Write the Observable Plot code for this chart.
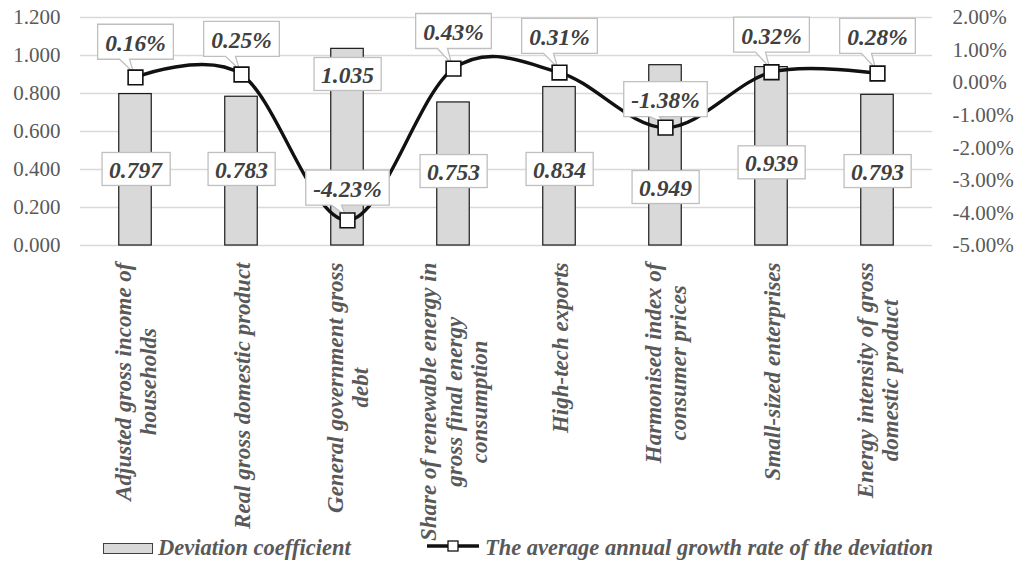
<!DOCTYPE html>
<html>
<head>
<meta charset="utf-8">
<script src="https://cdn.jsdelivr.net/npm/d3@7"></script>
<script src="https://cdn.jsdelivr.net/npm/@observablehq/plot@0.6"></script>
<style>
  body { margin: 0; background: #fff; }
  #chart { width: 1020px; height: 564px; position: relative; overflow: hidden; background: #fff; }
  #chart svg { display: block; }
  .legend { position: relative; width: 1020px; height: 28px;
    font-family: "Liberation Serif", serif; font-style: italic; font-weight: bold;
    font-size: 22.5px; color: #595959; }
  .legend .sw { position: absolute; left: 103px; top: 7px; width: 48px; height: 9px; background: #d9d9d9; border: 1px solid #404040; }
  .legend .t1 { position: absolute; left: 158px; top: 1px; line-height: 22px; white-space: nowrap; }
  .legend .ln { position: absolute; left: 426px; top: 0px; }
  .legend .t2 { position: absolute; left: 485px; top: 1px; line-height: 22px; white-space: nowrap; }
</style>
</head>
<body>
<div id="chart"></div>
<script>
// ---------------- data ----------------
const categories = [
  "Adjusted gross income of households",
  "Real gross domestic product",
  "General government gross debt",
  "Share of renewable energy in gross final energy consumption",
  "High-tech exports",
  "Harmonised index of consumer prices",
  "Small-sized enterprises",
  "Energy intensity of gross domestic product"
];
const categoryLines = [
  "Adjusted gross income of\nhouseholds",
  "Real gross domestic product",
  "General government gross\ndebt",
  "Share of renewable energy in\ngross final energy\nconsumption",
  "High-tech exports",
  "Harmonised index of\nconsumer prices",
  "Small-sized enterprises",
  "Energy intensity of gross\ndomestic product"
];
const deviationCoefficient = [0.797, 0.783, 1.035, 0.753, 0.834, 0.949, 0.939, 0.793];
const growthRatePct = [0.16, 0.25, -4.23, 0.43, 0.31, -1.38, 0.32, 0.28];
const leftTicks = [0, 0.2, 0.4, 0.6, 0.8, 1.0, 1.2];
const rightTicks = [2, 1, 0, -1, -2, -3, -4, -5];
const legendNames = ["Deviation coefficient", "The average annual growth rate of the deviation"];

// ---------------- layout (label anchor positions, in data units) ----------------
const barLabelAt = [0.395, 0.395, 0.895, 0.384, 0.395, 0.30, 0.43, 0.384];   // left-axis units
const calloutLift = [1.05, 1.05, 0.96, 1.11, 1.08, 0.83, 1.11, 1.11];        // right-axis % points

// map right axis (-5%..2%) onto left axis (0..1.2)
const R0 = -5, R1 = 2, L1 = 1.2;
const toLeft = p => (p - R0) / (R1 - R0) * L1;
const fromLeft = v => v / L1 * (R1 - R0) + R0;

const rows = categories.map((c, i) => ({
  cat: c, lines: categoryLines[i], dev: deviationCoefficient[i], rate: growthRatePct[i],
  labelAt: barLabelAt[i], lift: calloutLift[i]
}));

const H = 536;
const serif = '"Liberation Serif", serif';
const labelGray = "#404040";

const chart = Plot.plot({
  width: 1020,
  height: H,
  marginLeft: 80,
  marginRight: 88,
  marginTop: 17,
  marginBottom: H - 245,
  style: { fontFamily: serif, fontSize: "21px", color: "#595959", background: "#fff", overflow: "visible" },
  x: { domain: categories, padding: 0, axis: null },
  y: { domain: [0, L1], axis: null },
  marks: [
    Plot.ruleY(leftTicks, { stroke: "#d9d9d9", strokeWidth: 1.3 }),
    Plot.axisY(leftTicks, {
      anchor: "left", tickSize: 0, tickPadding: 20, fontSize: 21, fill: "#595959", fontFamily: serif,
      tickFormat: d => d.toFixed(3)
    }),
    Plot.axisY(rightTicks.map(toLeft), {
      anchor: "right", tickSize: 0, tickPadding: 20, fontSize: 21, fill: "#595959", fontFamily: serif,
      tickFormat: d => { const p = Math.round(fromLeft(d) * 100) / 100; return (p === 0 ? 0 : p).toFixed(2) + "%"; }
    }),
    Plot.barY(rows, {
      x: "cat", y: "dev", fill: "#d9d9d9", stroke: "#1a1a1a", strokeWidth: 1.2,
      insetLeft: 36.75, insetRight: 36.75
    }),
    Plot.line(rows, {
      x: "cat", y: d => toLeft(d.rate), curve: "cardinal", tension: 0,
      stroke: "#111", strokeWidth: 3.4
    }),
    Plot.dot(rows, {
      x: "cat", y: d => toLeft(d.rate), symbol: "square", r: 8.3,
      fill: "#fff", stroke: "#111", strokeWidth: 1.6
    }),
    Plot.text(rows, {
      x: "cat", y: "labelAt", text: d => d.dev.toFixed(3), fontFamily: serif,
      fontSize: 23.5, fontWeight: "bold", fontStyle: "italic", fill: labelGray
    }),
    Plot.text(rows, {
      x: "cat", y: d => toLeft(d.rate + d.lift), text: d => d.rate.toFixed(2) + "%", fontFamily: serif,
      fontSize: 23.5, fontWeight: "bold", fontStyle: "italic", fill: labelGray
    }),
    Plot.text(rows, {
      x: "cat", y: 0, dy: 17, text: "lines", rotate: -90, textAnchor: "end", lineAnchor: "middle",
      lineHeight: 1.1, fontSize: 23, fontWeight: "bold", fontStyle: "italic", fill: "#595959", fontFamily: serif
    })
  ]
});

const root = document.getElementById("chart");
root.appendChild(chart);

// legend (HTML, below the SVG)
const legend = document.createElement("div");
legend.className = "legend";
legend.innerHTML =
  `<div class="sw"></div><span class="t1">${legendNames[0]}</span>` +
  `<svg class="ln" width="54" height="20"><line x1="1" y1="10" x2="53" y2="10" stroke="#111" stroke-width="3.4"/>` +
  `<rect x="22" y="5" width="10" height="10" fill="#fff" stroke="#111" stroke-width="1.3"/></svg>` +
  `<span class="t2">${legendNames[1]}</span>`;
root.appendChild(legend);

// ---------- decorations computed from the rendered marks ----------
const NS = "http://www.w3.org/2000/svg";
const svg = chart.tagName.toLowerCase() === "svg" ? chart : chart.querySelector("svg");
const sRect = svg.getBoundingClientRect();
const box = el => {
  const r = el.getBoundingClientRect();
  return { x0: r.left - sRect.left, y0: r.top - sRect.top, x1: r.right - sRect.left, y1: r.bottom - sRect.top };
};

const textGroups = Array.from(svg.querySelectorAll(':scope > g[aria-label="text"]'));
const [barG, calG, catG] = textGroups;
const dotG = svg.querySelector(':scope > g[aria-label="dot"]');

// bar value boxes
if (barG) {
  const barBoxes = document.createElementNS(NS, "g");
  barG.querySelectorAll("text").forEach(t => {
    const b = box(t);
    const cx = (b.x0 + b.x1) / 2, cy = (b.y0 + b.y1) / 2 - 1;
    const w = (b.x1 - b.x0) + 14, h = 33;
    const r = document.createElementNS(NS, "rect");
    r.setAttribute("x", cx - w / 2); r.setAttribute("y", cy - h / 2);
    r.setAttribute("width", w); r.setAttribute("height", h);
    r.setAttribute("fill", "#fff"); r.setAttribute("stroke", "#bfbfbf"); r.setAttribute("stroke-width", 1.3);
    barBoxes.appendChild(r);
  });
  svg.insertBefore(barBoxes, barG);
}

// callouts with tails pointing at the markers
if (calG && dotG) {
  const dots = Array.from(dotG.querySelectorAll("path"));
  const calBoxes = document.createElementNS(NS, "g");
  calG.querySelectorAll("text").forEach((t, i) => {
    const b = box(t);
    const m = box(dots[i]);
    const mx = (m.x0 + m.x1) / 2, my = (m.y0 + m.y1) / 2;
    const cx = (b.x0 + b.x1) / 2, cy = (b.y0 + b.y1) / 2 - 1;
    const w = (b.x1 - b.x0) + 15, h = 35;
    const x0 = cx - w / 2, x1 = cx + w / 2, y0 = cy - h / 2, y1 = cy + h / 2;
    const ta = cx - 16, tb = cx - 6;
    const d = `M${x0},${y0}H${x1}V${y1}H${tb}L${mx - 2},${my - 5}L${ta},${y1}H${x0}Z`;
    const p = document.createElementNS(NS, "path");
    p.setAttribute("d", d);
    p.setAttribute("fill", "#fff"); p.setAttribute("stroke", "#bfbfbf"); p.setAttribute("stroke-width", 1.3);
    calBoxes.appendChild(p);
  });
  svg.insertBefore(calBoxes, dotG);
}

// category labels: block top at axis, lines centred within the block
if (catG) {
  catG.querySelectorAll("text").forEach(t => {
    const spans = Array.from(t.querySelectorAll("tspan"));
    if (spans.length) {
      const maxLen = Math.max(...spans.map(s => s.getComputedTextLength()));
      t.setAttribute("text-anchor", "middle");
      spans.forEach(s => s.setAttribute("x", -maxLen / 2));
    }
  });
}
</script>
</body>
</html>
